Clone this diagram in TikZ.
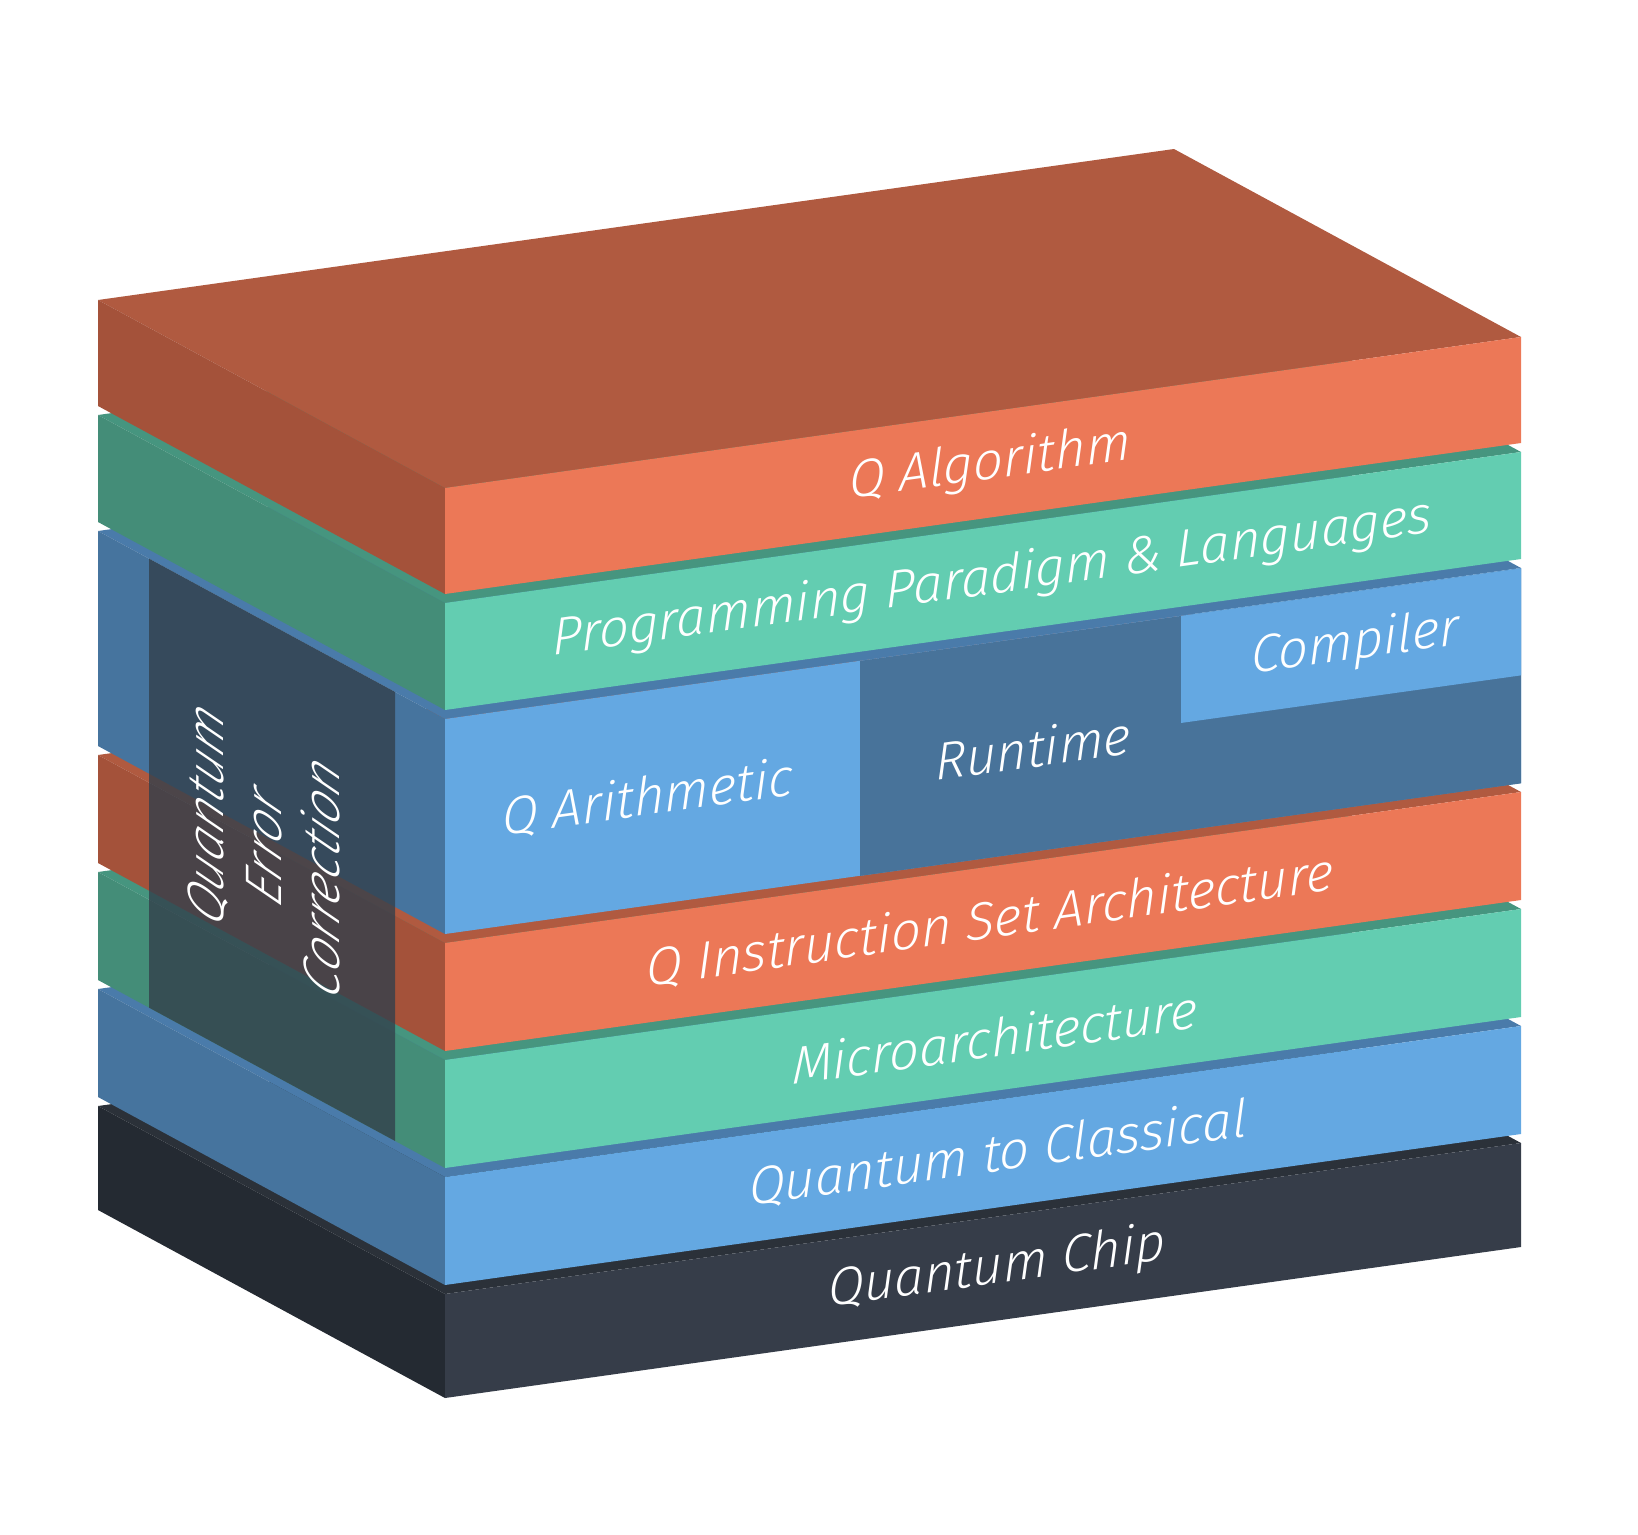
\documentclass[tikz,border=0pt]{standalone}
\usepackage{fontspec}
\setmainfont{Fira Sans Light}[ItalicFont={Fira Sans Light Italic}]
\usetikzlibrary{calc}

\definecolor{frontorg}{HTML}{EC7857}
\definecolor{sideorg}{HTML}{A4523A}
\definecolor{toporg}{HTML}{B05A40}
\definecolor{frontgrn}{HTML}{63CDB1}
\definecolor{sidegrn}{HTML}{448D78}
\definecolor{topgrn}{HTML}{46957F}
\definecolor{frontblu}{HTML}{64A8E2}
\definecolor{sideblu}{HTML}{46749E}
\definecolor{topblu}{HTML}{4A7BAA}
\definecolor{frontdrk}{HTML}{363D49}
\definecolor{sidedrk}{HTML}{242A32}
\definecolor{topdrk}{HTML}{2B3139}
\definecolor{runtimeblu}{HTML}{48739A}
\definecolor{qecshade}{HTML}{33404C}

\tikzset{
	layertext/.style={text=white, transform shape, inner sep=1pt, font=\fontsize{15}{17}\selectfont\itshape},
	qecbox/.style={fill=qecshade, opacity=.8},
}

\begin{document}
\begin{tikzpicture}[x=0.1mm, y=-0.1mm]
	\useasboundingbox (0,0) rectangle (1638,1534);
	% the stack, bottom layer first
	\foreach \ytop/\ybot/\col in {1294/1398/drk, 1177/1285/blu, 1060/1168/grn, 943/1051/org, 719/934/blu, 603/710/grn, 488/594/org} {
		\fill[top\col] (98,\ytop-188) -- (445,\ytop) -- (1521,\ytop-151) -- (1174,\ytop-339) -- cycle;
		\fill[side\col] (98,\ytop-188) -- (445,\ytop) -- (445,\ybot) -- (98,\ybot-188) -- cycle;
		\fill[front\col] (445,\ytop) -- (1521,\ytop-151) -- (1521,\ybot-151) -- (445,\ybot) -- cycle;
	}
	% front faces
	\begin{scope}[shift={(445,0)}, yslant=0.14]
		\fill[runtimeblu] (415,719) rectangle (1076,934);
		\fill[frontblu] (736,719) rectangle (1076,826);
		\node[layertext] (alg) at (545,541) {Q Algorithm};
		\node[layertext] (prog) at (547,656) {Programming Paradigm \& Languages};
		\node[layertext] (arith) at (203,826) {Q Arithmetic};
		\node[layertext] (runtime) at (588,830) {Runtime};
		\node[layertext] (compiler) at (910,772) {Compiler};
		\node[layertext] (isa) at (545,997) {Q Instruction Set Architecture};
		\node[layertext] (micro) at (550,1114) {Microarchitecture};
		\node[layertext] (qtoc) at (553,1231) {Quantum to Classical};
		\node[layertext] (chip) at (552,1346) {Quantum Chip};
	\end{scope}
	% left face
	\begin{scope}[shift={(445,0)}, yslant=-0.5418]
		\fill[qecbox] (-296,719) rectangle (-50,1168);
		\node[layertext, rotate=90, align=center, font=\fontsize{14.6}{16.5}\selectfont\itshape] (qec) at (-181,943) {Quantum\\Error\\Correction};
	\end{scope}
\end{tikzpicture}
\end{document}
